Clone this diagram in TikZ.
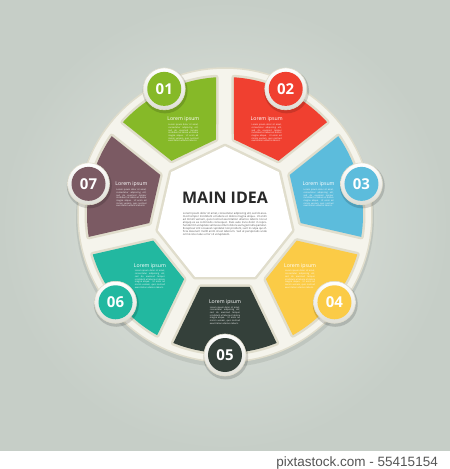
\documentclass[tikz,border=0pt]{standalone}
\usepackage{fontspec}
\setmainfont{Open Sans}
\newfontfamily\stripfont{Liberation Sans}
\usetikzlibrary{positioning}

\definecolor{bgin}{RGB}{224,229,223}
\definecolor{bgout}{RGB}{198,206,199}
\definecolor{frame}{RGB}{245,244,236}
\definecolor{bevel}{RGB}{224,221,204}
\definecolor{ringlow}{RGB}{222,222,214}
\definecolor{maintext}{RGB}{40,40,40}
\definecolor{fillgray}{RGB}{85,85,85}
\definecolor{striptext}{RGB}{85,85,85}
\definecolor{segA}{RGB}{134,185,40}
\definecolor{segB}{RGB}{240,64,48}
\definecolor{segC}{RGB}{92,188,220}
\definecolor{segD}{RGB}{251,203,70}
\definecolor{segE}{RGB}{52,64,58}
\definecolor{segF}{RGB}{34,184,160}
\definecolor{segG}{RGB}{123,90,99}

\newcommand{\loremlong}{Lorem ipsum dolor sit amet, consectetur adipiscing elit, sed do eiusmod tempor incididunt ut labore et dolore magna aliqua. Ut enim ad minim veniam, quis nostrud exercitation ullamco laboris nisi ut aliquip ex ea commodo consequat. Duis aute irure dolor in reprehenderit in voluptate velit esse cillum dolore eu fugiat nulla pariatur. Excepteur sint occaecat cupidatat non proident, sunt in culpa qui officia deserunt mollit anim id est laborum. Sed ut perspiciatis unde omnis iste natus error sit voluptatem.}
\newcommand{\loremshort}{Lorem ipsum dolor sit amet, consectetur adipiscing elit, sed do eiusmod tempor incididunt ut labore et dolore magna aliqua. Ut enim ad minim veniam, quis nostrud exercitation ullamco laboris.}

\tikzset{
  segpiece/.style={fill=#1, preaction={draw=bevel, line width=5pt, line join=round}},
  numring/.style={circle, top color=white, bottom color=ringlow, draw=bevel, line width=0.6pt, minimum size=42pt, inner sep=0pt},
  numdisc/.style={circle, fill=#1, minimum size=34pt, inner sep=0pt, text=white, font=\fontsize{15}{15}\selectfont\bfseries},
  segtitle/.style={text=white, inner sep=0pt, font=\fontsize{5.2}{6}\selectfont},
  segbody/.style={text=white, inner sep=0pt},
}

\begin{document}
\begin{tikzpicture}[x=1pt, y=1pt]
\useasboundingbox (-225,-254) rectangle (225,215);
% background
\shade[inner color=bgin, outer color=bgout] (-225,-236) rectangle (225,215);
\fill[white] (-225,-254) rectangle (225,-236);
% frame
\fill[black, opacity=.08] (0,-3) circle (149);
\fill[frame, draw=bevel, line width=1.5pt] (0,0) circle (147);
\path[fill=white, preaction={draw=bevel, line width=5pt, line join=round}]
  (90:68.8) \foreach \k in {1,...,6}{ -- (90-\k*51.4286:68.8)} -- cycle;
% segments
\foreach \i/\c in {1/segA,2/segB,3/segC,4/segD,5/segE,6/segF,7/segG}{
  \pgfmathsetmacro\a{115.714-(\i-1)*51.4286}
  \path[segpiece=\c] (\a-18.92:76.11) -- (\a-21.98:138)
    arc[start angle=\a-21.98, end angle=\a+21.98, radius=138]
    -- (\a+18.92:76.11) -- cycle;
  \path (\a:96) ++(0,9) node[segtitle] (H\i) {Lorem ipsum};
  \node[segbody, below=1.5pt of H\i] (B\i)
    {\parbox{30pt}{\fontsize{2.2}{2.7}\selectfont\loremshort}};
  \fill[black, opacity=.15] (\a:140) ++(0.8,-2) circle (22.5);
  \node[numring] (R\i) at (\a:140) {};
  \node[numdisc=\c] (N\i) at (\a:140) {0\i};
}
% main idea
\node[font=\fontsize{16}{16}\selectfont\bfseries, text=maintext, anchor=base] (M) at (0,12) {MAIN IDEA};
\node[anchor=north, inner sep=0pt, text=fillgray] (L) at (0,3)
  {\parbox{84pt}{\fontsize{2.7}{3.1}\selectfont\loremlong}};
% credit line
\node[anchor=base east, inner sep=0pt, font=\stripfont\fontsize{13.5}{13.5}\selectfont, text=striptext] (S) at (213,-251) {pixtastock.com - 55415154};
\end{tikzpicture}
\end{document}
